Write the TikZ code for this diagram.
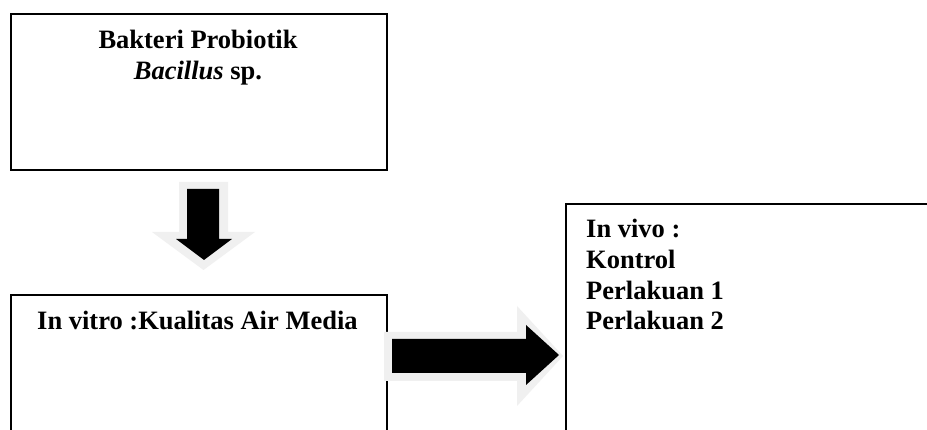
\documentclass[tikz,border=0pt]{standalone}
\usepackage{fontspec}
\setmainfont{Liberation Serif}
\definecolor{shadowgray}{RGB}{240,240,240}
\begin{document}
\begin{tikzpicture}[x=1pt,y=-1pt,
  boxframe/.style={draw=black,line width=2pt,rectangle,inner sep=0pt,anchor=north west},
  txt/.style={inner sep=0pt,font=\bfseries\fontsize{26.5}{31}\selectfont},
  glow/.style={fill=shadowgray,draw=none},
  blockarrow/.style={fill=black,draw=none}]
\useasboundingbox (0,0) rectangle (927,430);
\clip (0,0) rectangle (927,430);
\fill[white] (0,0) rectangle (927,430);
% boxes
\node[boxframe,minimum width=376pt,minimum height=156pt] (box1) at (9.5,13) {};
\node[boxframe,minimum width=376pt,minimum height=180pt] (box2) at (9.5,294) {};
\node[boxframe,minimum width=400pt,minimum height=260pt] (box3) at (565,203) {};
% texts
\node[txt,anchor=base] (t1a) at (198,49) {Bakteri Probiotik};
\node[txt,anchor=base] (t1b) at (198,80) {\textit{Bacillus} sp.};
\node[txt,anchor=base west] (t2) at (37,330) {In vitro :Kualitas Air Media};
\node[txt,anchor=base west] (t3a) at (586,238) {In vivo :};
\node[txt,anchor=base west] (t3b) at (586,269) {Kontrol};
\node[txt,anchor=base west] (t3c) at (586,300) {Perlakuan 1};
\node[txt,anchor=base west] (t3d) at (586,330) {Perlakuan 2};
% down arrow
\fill[glow] (179,182) -- (228,182) -- (228,232) -- (255,232) -- (203.5,270) -- (152,232) -- (179,232) -- cycle;
\fill[blockarrow] (187,189) -- (219,189) -- (219,239) -- (232,239) -- (204,260) -- (176,239) -- (187,239) -- cycle;
% right arrow
\fill[glow] (384,332) -- (517,332) -- (517,306) -- (563,356) -- (517,406) -- (517,381) -- (384,381) -- cycle;
\fill[blockarrow] (392,339) -- (526,339) -- (526,325) -- (559,355) -- (526,385) -- (526,373) -- (392,373) -- cycle;
\end{tikzpicture}
\end{document}
